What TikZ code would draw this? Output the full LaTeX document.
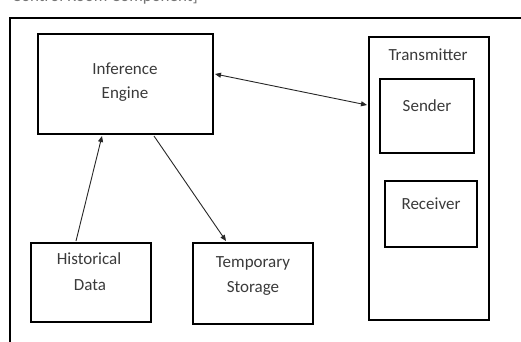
\documentclass[tikz,border=0pt]{standalone}
\usepackage{fontspec}
\setmainfont{Carlito}
\usetikzlibrary{arrows.meta,calc}
\definecolor{inktext}{HTML}{3A3A3A}
\definecolor{inkline}{HTML}{262626}
\begin{document}
\begin{tikzpicture}[x=1pt,y=-1pt,
  box/.style={draw=black,line width=2pt,rectangle,inner sep=0pt},
  txt/.style={text=inktext,font=\fontsize{17}{24}\selectfont,inner sep=0pt,anchor=base},
  link/.style={draw=inkline,line width=0.9pt,-{Triangle[length=6pt,width=5pt]}},
  biline/.style={draw=inkline,line width=0.9pt,{Triangle[length=6pt,width=5pt]}-{Triangle[length=6pt,width=5pt]}}]
  \useasboundingbox (0,0) rectangle (521,341);
  \clip (0,0) rectangle (521,341);

  % caption above the frame, only its lower edge falls inside the page
  \node[txt,text=inktext!70,anchor=base west] (caption) at (12,1.5) {Control Room Component]};

  % outer frame running off the page to the right and bottom
  \draw[line width=2pt] (10,350) -- (10,18) -- (530,18);

  % component boxes
  \node[box,minimum width=175pt,minimum height=100pt] (engine) at (125.5,84) {};
  \node[box,minimum width=120pt,minimum height=283pt] (trans) at (429,178.5) {};
  \node[box,minimum width=94pt,minimum height=74pt] (sender) at (427,116) {};
  \node[box,minimum width=92pt,minimum height=66pt] (receiver) at (431,214) {};
  \node[box,minimum width=120pt,minimum height=79pt] (hist) at (91,282.5) {};
  \node[box,minimum width=120pt,minimum height=81pt] (temp) at (253,283.5) {};

  % box captions, one node per line placed on its baseline
  \node[txt] (engineT1) at (125,74) {Inference};
  \node[txt] (engineT2) at (125,98) {Engine};
  \node[txt] (transT) at (428,60) {Transmitter};
  \node[txt] (senderT) at (427,111) {Sender};
  \node[txt] (receiverT) at (431,209) {Receiver};
  \node[txt] (histT1) at (89,264) {Historical};
  \node[txt] (histT2) at (90,290) {Data};
  \node[txt] (tempT1) at (253,267) {Temporary};
  \node[txt] (tempT2) at (253,292) {Storage};

  % connectors
  \path[biline] ($(engine.north east)+(1,41)$) -- ($(trans.north west)+(-1,69)$);
  \path[link] ($(hist.north west)+(46,-1)$) -- ($(engine.south west)+(65,1)$);
  \path[link] ($(engine.south west)+(117,1)$) -- ($(temp.north west)+(34,-1)$);
\end{tikzpicture}
\end{document}
